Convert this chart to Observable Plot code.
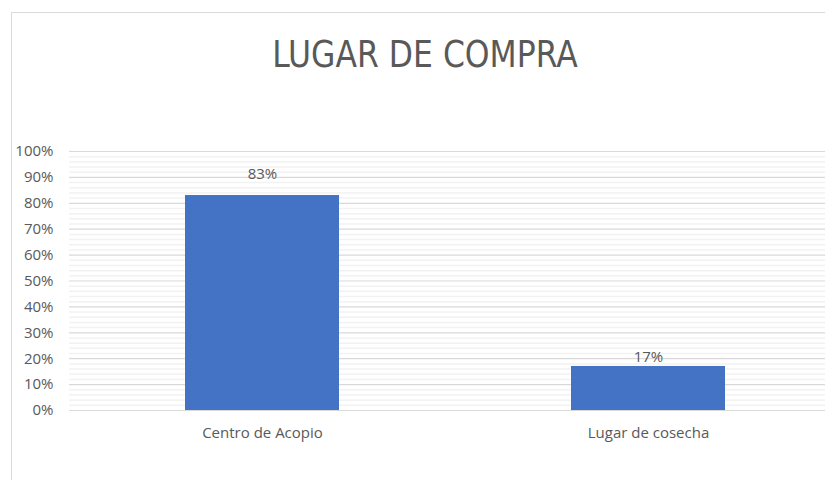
<!DOCTYPE html>
<html>
<head>
<meta charset="utf-8">
<script src="https://cdn.jsdelivr.net/npm/d3@7"></script>
<script src="https://cdn.jsdelivr.net/npm/@observablehq/plot@0.6"></script>
<style>
  html, body { margin: 0; padding: 0; background: #fff; }
  #wrap { position: relative; width: 825px; height: 480px; overflow: hidden; }
  #frame { position: absolute; left: 11px; top: 12px; width: 900px; height: 600px;
           border-left: 1px solid #d9d9d9; border-top: 1px solid #d9d9d9; }
  #title { position: relative; height: 100px; box-sizing: border-box; padding-left: 25px;
           text-align: center; font-family: "Liberation Sans Narrow", "DejaVu Sans Condensed", sans-serif;
           font-size: 38px; color: #595959; line-height: 100px; padding-top: 4px; }
  #title span { display: inline-block; transform: scaleX(0.92); }
  #plot { position: relative; }
</style>
</head>
<body>
<div id="wrap">
  <div id="frame"></div>
  <div id="title"><span>LUGAR DE COMPRA</span></div>
  <div id="plot"></div>
</div>
<script>
const categories = ["Centro de Acopio", "Lugar de cosecha"];
const values = [0.83, 0.17];
const valueLabels = ["83%", "17%"];
const majorTicks = [0, 0.1, 0.2, 0.3, 0.4, 0.5, 0.6, 0.7, 0.8, 0.9, 1.0];
const minorTicks = d3.range(0, 1.0001, 0.02).filter(v => Math.abs(Math.round(v * 10) - v * 10) > 1e-6);

const data = categories.map((c, i) => ({category: c, value: values[i], label: valueLabels[i]}));

const font = "'Open Sans', sans-serif";

const chart = Plot.plot({
  width: 825,
  height: 380,
  marginTop: 51,
  marginBottom: 70,
  marginLeft: 69,
  marginRight: 0,
  style: {fontFamily: font, fontSize: "15px", color: "#595959", background: "transparent", overflow: "visible"},
  x: {domain: categories, range: [69, 841], paddingInner: 0.6, paddingOuter: 0.3, label: null},
  y: {domain: [0, 1], label: null},
  marks: [
    Plot.ruleY(minorTicks, {stroke: "#f2f2f2", strokeWidth: 1.5}),
    Plot.ruleY(majorTicks, {stroke: "#d9d9d9", strokeWidth: 1.2}),
    Plot.barY(data, {x: "category", y: "value", fill: "#4472c4"}),
    Plot.text(data.slice(0, 1), {x: "category", y: "value", text: "label", lineAnchor: "bottom", dy: -17, fill: "#595959", fontSize: 15}),
    Plot.text(data.slice(1, 2), {x: "category", y: "value", text: "label", lineAnchor: "bottom", dy: -4, fill: "#595959", fontSize: 15}),
    Plot.axisY(majorTicks, {tickFormat: d3.format(".0%"), tickSize: 0, tickPadding: 16, fill: "#595959", fontSize: 15}),
    Plot.axisX({tickSize: 0, tickPadding: 17, fill: "#595959", fontSize: 15})
  ]
});
document.getElementById("plot").appendChild(chart);
</script>
</body>
</html>
